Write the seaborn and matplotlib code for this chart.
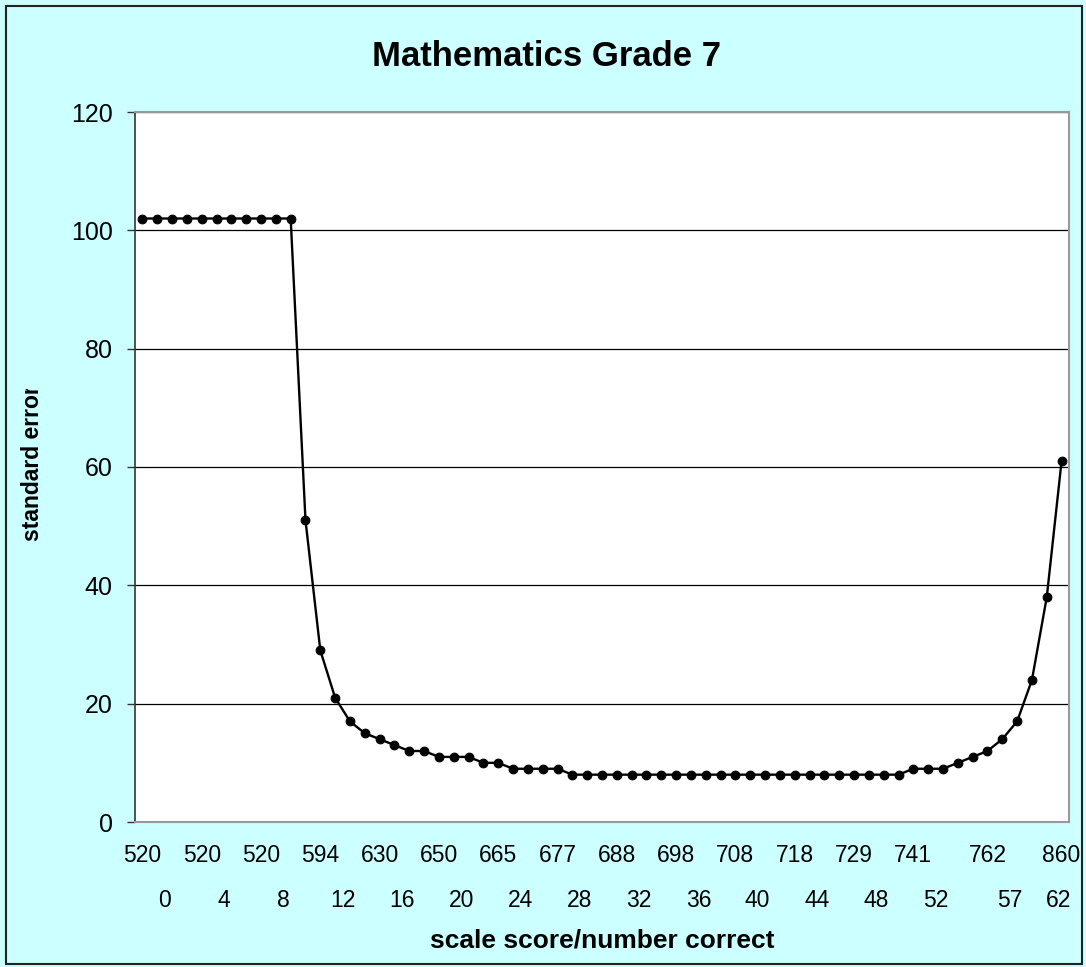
import numpy as np
import pandas as pd
import matplotlib
matplotlib.use("Agg")
import matplotlib.pyplot as plt
import matplotlib.transforms as mtransforms
from matplotlib.patches import Rectangle
import seaborn as sns

# Data: standard error at each number-correct score (0..62)
number_correct = list(range(63))
standard_error = [102] * 11 + [51, 29, 21, 17, 15, 14, 13, 12, 12, 11, 11, 11, 10, 10] \
    + [9] * 4 + [8] * 23 + [9] * 3 + [10, 11, 12, 14, 17, 24, 38, 61]

# Category labels shown on the axis
label_idx = [0, 4, 8, 12, 16, 20, 24, 28, 32, 36, 40, 44, 48, 52, 57, 62]
scale_labels = ["520", "520", "520", "594", "630", "650", "665", "677", "688",
                "698", "708", "718", "729", "741", "762", "860"]
raw_labels = [str(i) for i in label_idx]

df = pd.DataFrame({"raw": number_correct, "se": standard_error})

sns.set_style("white")
plt.rcParams['font.family'] = ['Liberation Sans', 'DejaVu Sans']
plt.rcParams['text.color'] = 'black'
plt.rcParams['xtick.color'] = 'black'
plt.rcParams['ytick.color'] = 'black'

fig = plt.figure(figsize=(10.86, 9.67), dpi=100, facecolor="#CCFFFF")
ax = fig.add_axes([135 / 1086, 145 / 967, 934 / 1086, 710 / 967])
ax.set_facecolor("white")

sns.lineplot(data=df, x="raw", y="se", ax=ax, color="black", linewidth=1.7,
             marker="o", markersize=6.3, markeredgecolor="black", zorder=3)

ax.set_xlim(-0.5, 62.5)
ax.set_ylim(0, 120)
ax.set_yticks(range(0, 121, 20))
ax.yaxis.grid(True, color="black", linewidth=0.9)
ax.set_axisbelow(True)

for side in ["top", "right", "bottom"]:
    ax.spines[side].set_color("#999999")
    ax.spines[side].set_linewidth(1.5)
ax.spines["left"].set_color("#333333")
ax.spines["left"].set_linewidth(1.2)

ax.tick_params(axis="y", direction="out", length=6, width=1, color="#333333",
               pad=10, labelsize=18, left=True, labelcolor="black")
ax.set_xticks(label_idx)
ax.set_xticklabels(scale_labels)
ax.tick_params(axis="x", length=0, pad=16, labelsize=16.5, labelcolor="black")

trans = mtransforms.blended_transform_factory(ax.transData, ax.transAxes)
raw_pos = np.minimum(np.array(label_idx) + 1.5, 61.8)
for p, lab in zip(raw_pos, raw_labels):
    ax.text(p, -0.11, lab, transform=trans, ha="center", va="center",
            fontsize=16.5, color="black")

ax.set_xlabel("")
ax.set_ylabel("")
fig.text(602 / 1086, (967 - 940) / 967, "scale score/number correct",
         ha="center", va="center", fontsize=19, fontweight="bold", color="black")
fig.text(546 / 1086, (967 - 57) / 967, "Mathematics Grade 7",
         ha="center", va="center", fontsize=25, fontweight="bold", color="black")

ylab = fig.text(33 / 1086, (967 - 541) / 967, "standard error", rotation=90,
                ha="center", va="bottom", fontsize=16.5, fontweight="bold",
                color="black")
ylab.set_clip_box(mtransforms.Bbox.from_extents(0, 0, 1086, 967 - 389))
ylab.set_clip_on(True)

fig.patches.append(Rectangle((6 / 1086, 3 / 967), 1076 / 1086, 958 / 967,
                             transform=fig.transFigure, fill=False,
                             edgecolor="#222222", linewidth=1.5))

fig.savefig("out.png", dpi=100, facecolor=fig.get_facecolor())
